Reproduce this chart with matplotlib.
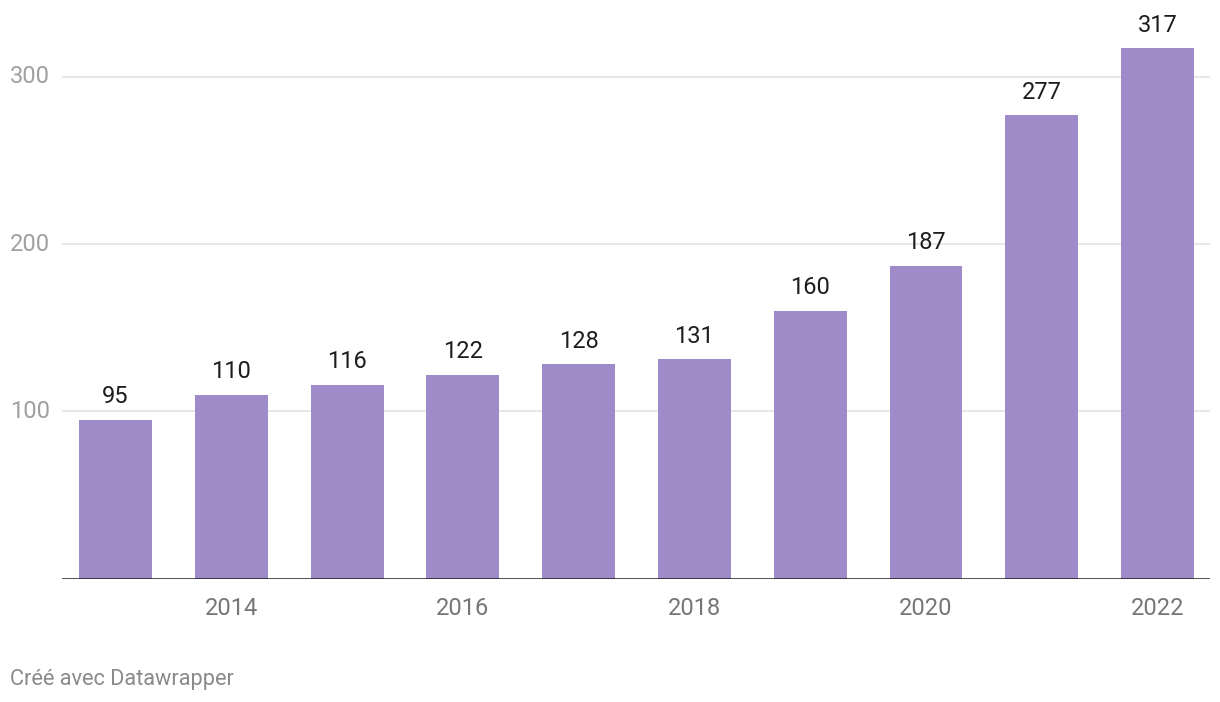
import matplotlib
matplotlib.use("Agg")
import matplotlib.pyplot as plt

years = [2013, 2014, 2015, 2016, 2017, 2018, 2019, 2020, 2021, 2022]
values = [95, 110, 116, 122, 128, 131, 160, 187, 277, 317]
xtick_years = [2014, 2016, 2018, 2020, 2022]
yticks = [100, 200, 300]

plt.rcParams['font.family'] = ['Roboto', 'DejaVu Sans']

fig = plt.figure(figsize=(12.2, 7.02), dpi=100)
ax = fig.add_axes([62/1220, 123.5/702, (1210-62)/1220, 330*1.672/702])
ax.set_xlim(2012.538, 2022.453)
ax.set_ylim(0, 330)

for y in yticks:
    ax.axhline(y, color='#e3e3e3', lw=1.2, zorder=0)

ax.bar(years, values, width=0.63, color='#a08bc9', zorder=2)
for x, v in zip(years, values):
    ax.text(x, v + 7, str(v), ha='center', va='bottom', fontsize=17, color='#1d1d1d', clip_on=False)

ax.axhline(0, color='#1d1d1d', lw=1.8, zorder=3)

for s in ax.spines.values():
    s.set_visible(False)
ax.set_xticks(xtick_years)
ax.set_xticklabels([str(y) for y in xtick_years], fontsize=17, color='#767676')
ax.tick_params(axis='x', length=0, pad=13)
ax.set_yticks([])
for y in yticks:
    ax.text(-52/1148, y, str(y), transform=ax.get_yaxis_transform(), ha='left', va='center',
            fontsize=17, color='#a0a0a0')

fig.text(10/1220, 1 - 679/702, 'Créé avec Datawrapper', fontsize=15.7, color='#8a8a8a', ha='left', va='center')

fig.savefig('out.png', dpi=100)
